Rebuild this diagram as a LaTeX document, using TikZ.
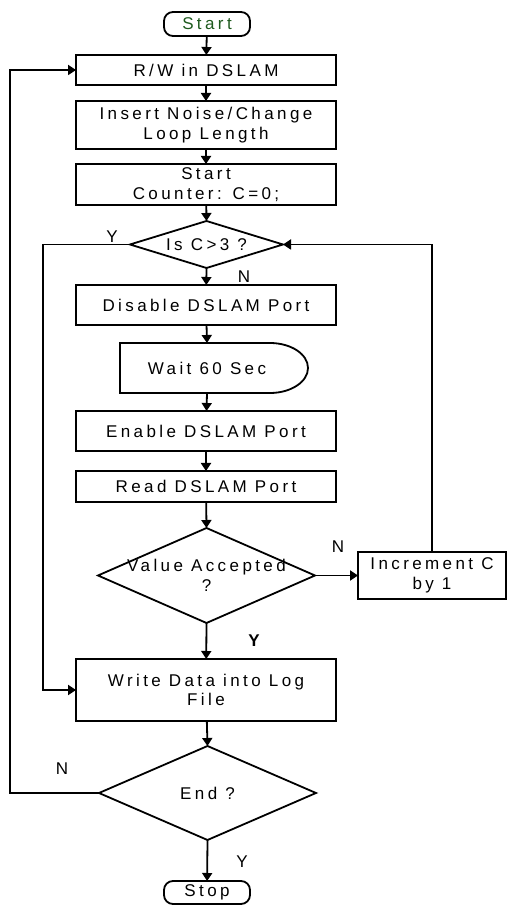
\documentclass[tikz,border=0pt]{standalone}
\usepackage{fontspec}
\setmainfont{Liberation Sans}[LetterSpace=20]
\usetikzlibrary{arrows.meta}
\definecolor{startgreen}{RGB}{30,90,30}
\begin{document}
\begin{tikzpicture}[x=1pt,y=1pt,line width=1.8pt,
  every node/.style={font=\fontsize{17}{19.5}\selectfont, inner sep=0pt, outer sep=0pt},
  proc/.style={draw, rectangle, minimum width=260, align=center},
  term/.style={draw, rectangle, rounded corners=9pt, minimum width=86, minimum height=24},
  plain/.style={align=center},
  flow/.style={-{Triangle[length=8pt,width=10pt]}},
  lbl/.style={font=\fontsize{17}{20}\selectfont}]
\useasboundingbox (0,0) rectangle (508,905);

% terminals
\node[term, text=startgreen] (start) at (207,881) {Start};
\node[term, minimum height=23] (stop) at (207,12.5) {Stop};

% process boxes
\node[proc, minimum height=30] (rw) at (206,835) {R/W in DSLAM};
\node[proc, minimum height=48] (noise) at (206,780) {Insert Noise/Change\\Loop Length};
\node[proc, minimum height=41] (counter) at (206,720.5) {Start\\Counter: C=0;};
\node[proc, minimum height=40] (disable) at (206,600) {Disable DSLAM Port};
\node[proc, minimum height=40] (enable) at (206,474) {Enable DSLAM Port};
\node[proc, minimum height=31] (read) at (206,418.5) {Read DSLAM Port};
\node[proc, minimum height=62] (write) at (206,215) {Write Data into Log\\File};
\node[draw, rectangle, align=center, minimum width=148, minimum height=47] (incr) at (432,329.5) {Increment C\\by 1};

% delay box
\node[plain, minimum width=174, minimum height=50] (wait) at (207,537) {Wait 60 Sec};
\draw (wait.north west) -- ++(150,0) arc[start angle=90,end angle=-90,x radius=38,y radius=25] -- (wait.south west) -- cycle;

% decisions
\node[plain, minimum width=153, minimum height=47] (isc) at (206.5,660.5) {Is C>3 ?};
\draw (isc.north) -- (isc.east) -- (isc.south) -- (isc.west) -- cycle;
\node[plain, minimum width=217, minimum height=95] (value) at (206.5,329.5) {Value Accepted\\?};
\draw (value.north) -- (value.east) -- (value.south) -- (value.west) -- cycle;
\node[plain, minimum width=217, minimum height=94] (end) at (207.5,112) {End ?};
\draw (end.north) -- (end.east) -- (end.south) -- (end.west) -- cycle;

% loop rails
\coordinate (outer) at (10,0);
\coordinate (inner) at (43,0);

% main flow
\draw[flow] (start) -- (rw);
\draw[flow] (rw) -- (noise);
\draw[flow] (noise) -- (counter);
\draw[flow] (counter) -- (isc.north);
\draw[flow] (isc.south) -- (disable);
\draw[flow] (disable) -- (wait.north);
\draw[flow] (wait.south) -- (enable);
\draw[flow] (enable) -- (read);
\draw[flow] (read) -- (value.north);
\draw[flow] (value.east) -- (incr);
\draw[flow] (incr.north) |- (isc.east);
\draw[flow] (isc.west) -| (inner |- write.west) -- (write.west);
\draw[flow] (value.south) -- (write);
\draw[flow] (write) -- (end.north);
\draw[flow] (end.west) -| (outer |- rw.west) -- (rw.west);
\draw[flow] (end.south) -- (stop);

% branch labels
\node[lbl] (y1) at (112,668) {Y};
\node[lbl] (n1) at (244,628) {N};
\node[lbl] (n2) at (338,358) {N};
\node[lbl, font=\fontsize{17}{20}\selectfont\bfseries] (y2) at (254,264) {Y};
\node[lbl] (n3) at (62,136) {N};
\node[lbl] (y3) at (242,43) {Y};
\end{tikzpicture}
\end{document}
